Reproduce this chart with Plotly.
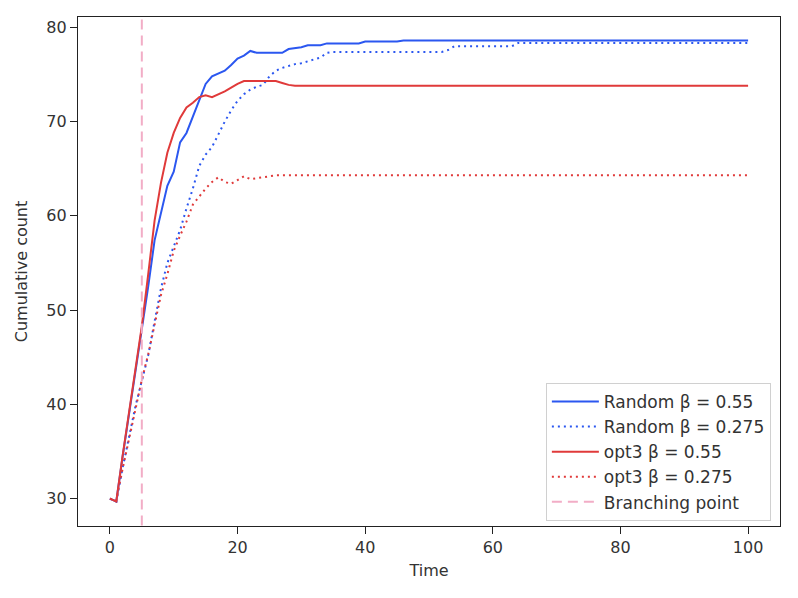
import plotly.graph_objects as go

time = list(range(0, 101))

# values, t = 0..35, then held flat
random_055_head = [30, 29.7, 34.5, 39.0, 43.5, 47.6, 52.5, 57.4, 60.4, 63.2,
                   64.7, 67.8, 68.8, 70.5, 72.4, 74.0, 74.8, 75.1, 75.4, 76.0,
                   76.7, 77.0, 77.5, 77.3, 77.3, 77.3, 77.3, 77.3, 77.7, 77.8,
                   77.9, 78.1, 78.1, 78.1, 78.3, 78.3]
random_0275_head = [30, 29.7, 33.3, 36.7, 39.8, 42.5, 45.2, 48.8, 52.3, 55.0,
                    56.7, 58.5, 60.8, 62.9, 65.3, 66.5, 67.3, 68.7, 70.0, 71.2,
                    72.2, 72.9, 73.4, 73.7, 73.9, 74.8, 75.4, 75.7, 75.9, 76.1,
                    76.2, 76.4, 76.6, 76.8, 77.3, 77.4]
opt3_055_head = [30, 29.7, 34.6, 39.2, 43.8, 48.3, 53.8, 59.5, 63.5, 66.7,
                 68.8, 70.4, 71.5, 72.0, 72.6, 72.8, 72.6, 72.9, 73.2, 73.6,
                 74.0, 74.3, 74.3, 74.3, 74.3, 74.3, 74.3, 74.1, 73.9, 73.8,
                 73.8, 73.8, 73.8, 73.8, 73.8, 73.8]
opt3_0275_head = [30, 29.8, 33.2, 36.4, 39.6, 42.6, 45.3, 48.4, 51.6, 53.8,
                  56.3, 57.9, 59.4, 61.2, 62.1, 62.9, 63.6, 64.1, 63.6, 63.4,
                  63.8, 64.2, 63.9, 64.0, 64.1, 64.2, 64.3, 64.3, 64.3, 64.3,
                  64.3, 64.3, 64.3, 64.3, 64.3, 64.3]

# later plateaus: (first time step, value)
random_055_steps = [(36, 78.3), (40, 78.5), (46, 78.6)]
random_0275_steps = [(36, 77.4), (53, 77.6), (54, 78.0), (64, 78.35)]
opt3_055_steps = [(36, 73.8)]
opt3_0275_steps = [(36, 64.3)]

branch_time = 5


def extend(head, steps):
    vals = list(head)
    for i, (start, v) in enumerate(steps):
        end = steps[i + 1][0] if i + 1 < len(steps) else 101
        vals += [v] * (end - start)
    return vals


blue = "#2b57f0"
red = "#e03a3a"
pink = "#f2adc6"

fig = go.Figure()

series = [
    ("Random β = 0.55", extend(random_055_head, random_055_steps), blue, "solid"),
    ("Random β = 0.275", extend(random_0275_head, random_0275_steps), blue, "2px,4px"),
    ("opt3 β = 0.55", extend(opt3_055_head, opt3_055_steps), red, "solid"),
    ("opt3 β = 0.275", extend(opt3_0275_head, opt3_0275_steps), red, "2px,4px"),
]
for name, ys, color, dash in series:
    fig.add_trace(go.Scatter(x=time, y=ys, mode="lines", name=name,
                             line=dict(color=color, width=2, dash=dash)))

# branching point as a trace so it shows in the legend
fig.add_trace(go.Scatter(x=[branch_time, branch_time], y=[0, 100], mode="lines",
                         name="Branching point",
                         line=dict(color=pink, width=2, dash="10px,6px")))

axis_common = dict(showgrid=False, zeroline=False, showline=True, mirror=True,
                   linecolor="#222", linewidth=1.2, ticks="outside", ticklen=7,
                   tickcolor="#222", tickfont=dict(size=16, color="#333"),
                   automargin=False)

fig.update_xaxes(range=[-5, 105], tickvals=[0, 20, 40, 60, 80, 100],
                 title=dict(text="Time", font=dict(size=16, color="#333"), standoff=8),
                 **axis_common)
fig.update_yaxes(range=[27.1, 81.1], tickvals=[30, 40, 50, 60, 70, 80],
                 title=dict(text="Cumulative count", font=dict(size=16, color="#333"), standoff=14),
                 **axis_common)

# page body adds an 8px offset, so margins are shifted to compensate
fig.update_layout(
    width=798, height=598,
    margin=dict(l=70, r=26, t=9, b=80),
    plot_bgcolor="white", paper_bgcolor="white",
    font=dict(family="DejaVu Sans", color="#333"),
    legend=dict(x=0.987, y=0.01, xanchor="right", yanchor="bottom",
                bgcolor="rgba(255,255,255,0.8)", bordercolor="#d0d0d0", borderwidth=1,
                font=dict(size=17, color="#333"), tracegroupgap=0, itemwidth=47),
    showlegend=True,
)

fig.write_html("out.html")
